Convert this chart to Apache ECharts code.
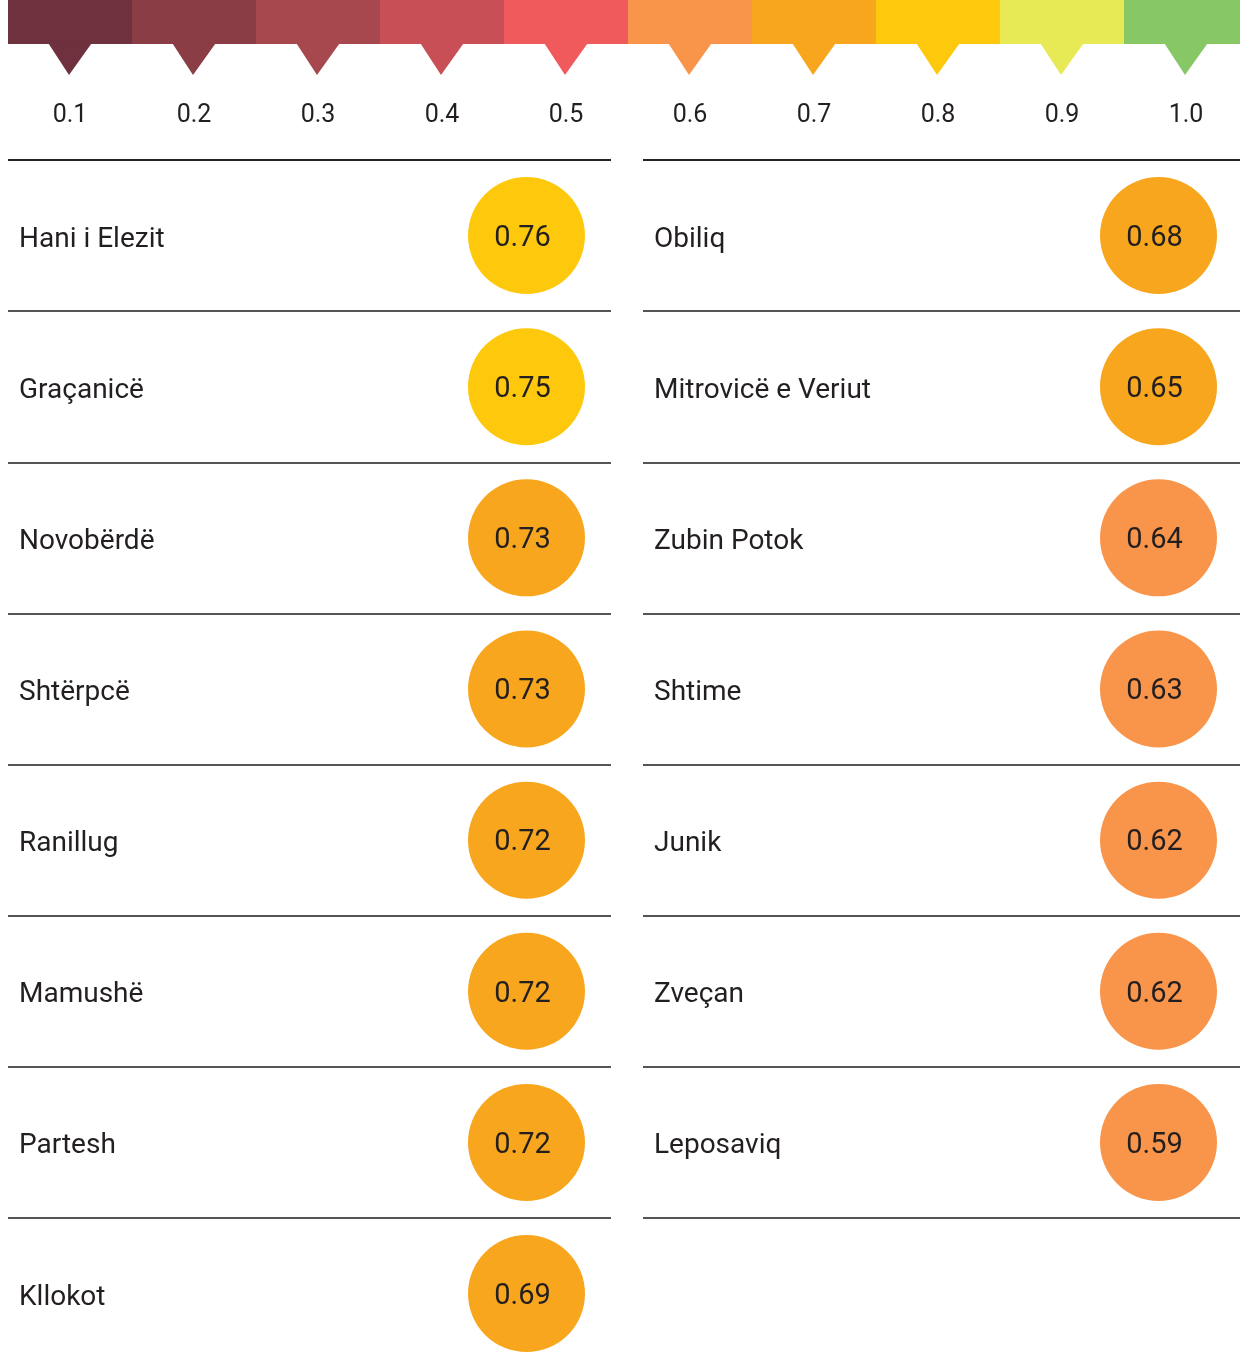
<!DOCTYPE html>
<html><head><meta charset="utf-8">
<script src="https://cdn.jsdelivr.net/npm/echarts@6/dist/echarts.min.js"></script>
<style>html,body{margin:0;padding:0;background:#fff}#c{width:1240px;height:1367px}</style>
</head><body><div id="c"></div>
<script>
const scaleTicks = ['0.1','0.2','0.3','0.4','0.5','0.6','0.7','0.8','0.9','1.0'];
const scaleColors = ['#6e313d','#8a3d45','#a6484e','#c84f55','#f05a5c','#f8954a','#f8a61d','#fec90c','#e8ea55','#88c766'];
const leftNames = ['Hani i Elezit','Graçanicë','Novobërdë','Shtërpcë','Ranillug','Mamushë','Partesh','Kllokot'];
const leftValues = [0.76,0.75,0.73,0.73,0.72,0.72,0.72,0.69];
const rightNames = ['Obiliq','Mitrovicë e Veriut','Zubin Potok','Shtime','Junik','Zveçan','Leposaviq'];
const rightValues = [0.68,0.65,0.64,0.63,0.62,0.62,0.59];

const FONT = 'Roboto, "DejaVu Sans", sans-serif';
const TXT = '#231f20';
const ROW = 151.14;

function colorFor(v){
  let idx = Math.round(v*10 + 1e-9) - 1;
  idx = Math.max(0, Math.min(scaleColors.length-1, idx));
  return scaleColors[idx];
}

function circleItem(values, offset){
  return function(params, api){
    const cs = params.coordSys;
    const cy = api.coord([0, api.value(1)])[1];
    const cx = cs.x + cs.width - offset;
    const v = values[params.dataIndex];
    return {type:'group', children:[
      {type:'circle', shape:{cx:cx, cy:cy, r:58.5}, style:{fill:colorFor(v)}},
      {type:'text', style:{x:cx-4, y:cy+3, text:v.toFixed(2), fill:TXT, font:'29px ' + FONT, textAlign:'center', textVerticalAlign:'middle'}}
    ]};
  };
}

function rowYAxis(names, gi){
  const lineColors = ['#222222'];
  for (let i = 0; i < names.length; i++) lineColors.push('#555555');
  return {type:'category', gridIndex:gi, data:names, inverse:true,
    axisLine:{show:false}, axisTick:{show:false},
    axisLabel:{inside:true, margin:11, interval:0, color:TXT,
      formatter: function(v){ return '{n|' + v + '}'; },
      rich:{n:{fontSize:28, color:TXT, fontFamily:FONT, padding:[8,0,0,0]}}},
    splitLine:{show:true, interval:0, showMinLine:true, showMaxLine:true, lineStyle:{color:lineColors, width:2}}
  };
}

const chart = echarts.init(document.getElementById('c'), null, {renderer:'canvas'});
chart.setOption({
  animation:false,
  backgroundColor:'#fff',
  grid:[
    {left:8, width:1240, top:0, height:44, outerBoundsMode:'none', containLabel:false},
    {left:8, width:603, top:160, height:ROW*leftNames.length, outerBoundsMode:'none'},
    {left:643, width:597, top:160, height:ROW*rightNames.length, outerBoundsMode:'none'}
  ],
  xAxis:[
    {type:'category', gridIndex:0, data:scaleTicks, axisLine:{show:false}, axisTick:{show:false},
      axisLabel:{margin:59, fontSize:25, color:TXT, fontFamily:FONT, interval:0}},
    {type:'value', gridIndex:1, min:0, max:1, show:false},
    {type:'value', gridIndex:2, min:0, max:1, show:false}
  ],
  yAxis:[
    {type:'value', gridIndex:0, min:0, max:1, show:false},
    rowYAxis(leftNames, 1),
    rowYAxis(rightNames, 2)
  ],
  series:[
    {type:'custom', xAxisIndex:0, yAxisIndex:0, clip:false,
      data: scaleTicks.map((t,i)=>[i,1]),
      renderItem:function(params, api){
        const cs = params.coordSys;
        const p = api.coord([api.value(0), 1]);
        const w = api.size([1,1])[0];
        const c = scaleColors[params.dataIndex];
        const top = cs.y, h = cs.height;
        return {type:'group', children:[
          {type:'rect', shape:{x:p[0]-w/2, y:top, width:w+0.6, height:h}, style:{fill:c}},
          {type:'polygon', shape:{points:[[p[0]-21.5, top+h-0.5],[p[0]+21.5, top+h-0.5],[p[0]-1, top+h+31]]}, style:{fill:c}}
        ]};
      }},
    {type:'custom', xAxisIndex:1, yAxisIndex:1, clip:false,
      data: leftNames.map((n,i)=>[0,i,leftValues[i]]),
      renderItem: circleItem(leftValues, 84.5)},
    {type:'custom', xAxisIndex:2, yAxisIndex:2, clip:false,
      data: rightNames.map((n,i)=>[0,i,rightValues[i]]),
      renderItem: circleItem(rightValues, 81.5)}
  ]
});
</script>
</body></html>
